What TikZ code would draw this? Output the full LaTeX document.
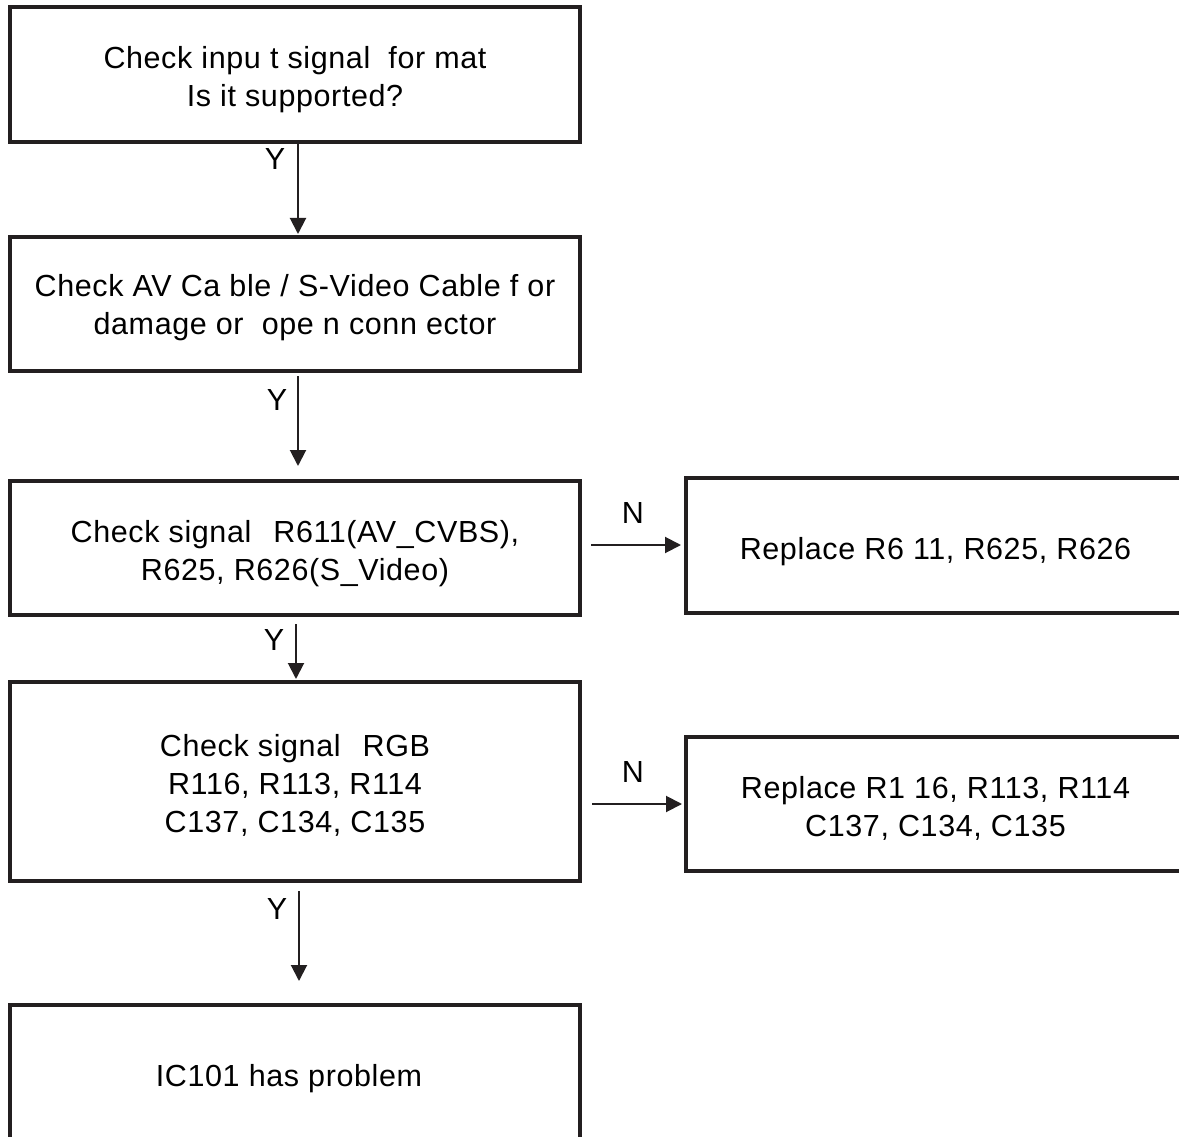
\documentclass[tikz,border=0pt]{standalone}
\usepackage{fontspec}
\setmainfont[LetterSpace=2]{Liberation Sans}
\usetikzlibrary{arrows.meta}
\definecolor{ink}{RGB}{35,31,32}
\tikzset{
  box/.style={draw=ink, line width=4pt, rectangle, inner sep=0pt},
  txt/.style={inner sep=0pt, align=center, font=\fontsize{30.5}{38}\selectfont, text=black},
  arr/.style={draw=ink, line width=2pt, -{Triangle[length=16pt,width=16pt]}},
  lbl/.style={inner sep=0pt, font=\fontsize{30.5}{38}\selectfont, text=black},
}
\begin{document}
\begin{tikzpicture}[x=1pt, y=-1pt]
\useasboundingbox (0,0) rectangle (1179,1137);
\fill[white] (0,0) rectangle (1179,1137);
\clip (0,0) rectangle (1179,1137);

\node[box, minimum width=570pt, minimum height=135pt] (b1) at (295,74.5) {};
\node[box, minimum width=570pt, minimum height=134pt] (b2) at (295,304) {};
\node[box, minimum width=570pt, minimum height=134pt] (b3) at (295,548) {};
\node[box, minimum width=570pt, minimum height=199pt] (b4) at (295,781.5) {};
\node[box, minimum width=570pt, minimum height=137pt] (b5) at (295,1073.5) {};
\node[box, minimum width=499pt, minimum height=135pt] (r1) at (935.5,545.5) {};
\node[box, minimum width=499pt, minimum height=134pt] (r2) at (935.5,804) {};

\node[txt] (t1) at ([yshift=-5pt]b1.center)
  {Check inpu t signal\ \ for mat\\Is it supported?};
\node[txt] (t2) at ([yshift=-4pt]b2.center)
  {Check AV Ca ble / S-Video Cable f or\\damage or\ \ ope n conn ector};
\node[txt] (t3) at ([yshift=-6pt]b3.center)
  {Check signal\hspace{22pt}R611(AV\_CVBS),\\R625, R626(S\_Video)};
\node[txt] (t4) at ([yshift=-4pt]b4.center)
  {Check signal\hspace{22pt}RGB\\R116, R113, R114\\C137, C134, C135};
\node[txt] (t5) at ([xshift=-6pt,yshift=-5pt]b5.center) {IC101 has problem};
\node[txt] (t6) at ([yshift=-6pt]r1.center) {Replace R6 11, R625, R626};
\node[txt] (t7) at ([yshift=-4pt]r2.center) {Replace R1 16, R113, R114\\C137, C134, C135};

\draw[arr, shorten >=1pt] ([xshift=3pt]b1.south) -- ([xshift=3pt]b2.north);
\draw[arr, shorten <=3pt, shorten >=13pt] ([xshift=3pt]b2.south) -- ([xshift=3pt]b3.north);
\draw[arr, shorten <=7pt, shorten >=1pt] ([xshift=1pt]b3.south) -- ([xshift=1pt]b4.north);
\draw[arr, shorten <=8pt, shorten >=22pt] ([xshift=4pt]b4.south) -- ([xshift=4pt]b5.north);
\draw[arr, shorten <=9pt, shorten >=3pt] ([yshift=3pt]b3.east) -- ([yshift=3pt]b3.east -| r1.west);
\draw[arr, shorten <=10pt, shorten >=2pt] (r2.west -| b4.east) -- (r2.west);

\node[lbl] (y1) at (275,159) {Y};
\node[lbl] (y2) at (277,400) {Y};
\node[lbl] (y3) at (274,640) {Y};
\node[lbl] (y4) at (277,909) {Y};
\node[lbl] (n1) at (633,513) {N};
\node[lbl] (n2) at (633,772) {N};
\end{tikzpicture}
\end{document}
